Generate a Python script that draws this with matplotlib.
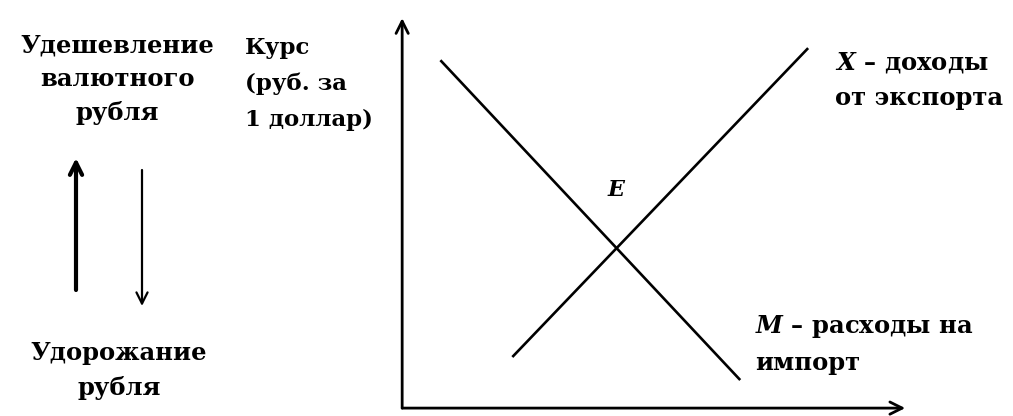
import numpy as np
import matplotlib.pyplot as plt

plt.rcParams['font.family'] = 'DejaVu Serif'
plt.rcParams['mathtext.fontset'] = 'custom'
plt.rcParams['mathtext.it'] = 'DejaVu Serif:italic:bold'
plt.rcParams['mathtext.rm'] = 'DejaVu Serif:bold'

# line endpoints in chart units (axis runs 0..10 both ways)
export_x = [2.19, 8.07]
export_y = [1.31, 9.23]
import_x = [0.76, 6.72]
import_y = [8.92, 0.72]

export_label = ["$X$ – доходы", "от экспорта"]
import_label = ["$M$ – расходы на", "импорт"]
y_label = ["Курс", "(руб. за", "1 доллар)"]
top_note = ["Удешевление", "валютного", "рубля"]
bottom_note = ["Удорожание", "рубля"]

fig = plt.figure(figsize=(10.13, 4.16), dpi=100)
ax = fig.add_axes([0.397, 0.019, 0.4966, 0.9375])
ax.set_xlim(0, 10)
ax.set_ylim(0, 10)
ax.axis('off')

# axes with arrows
ax.annotate("", xy=(0, 1.0), xytext=(0, 0), xycoords='axes fraction',
            arrowprops=dict(arrowstyle='->', lw=2, color='black', mutation_scale=22,
                            shrinkA=0, shrinkB=0))
ax.annotate("", xy=(1.0, 0), xytext=(0, 0), xycoords='axes fraction',
            arrowprops=dict(arrowstyle='->', lw=2, color='black', mutation_scale=22,
                            shrinkA=0, shrinkB=0))

ax.plot(export_x, export_y, color='black', lw=1.9, solid_capstyle='butt')
ax.plot(import_x, import_y, color='black', lw=1.9, solid_capstyle='butt')

# equilibrium label, placed above the crossing
a1 = np.polyfit(export_x, export_y, 1)
a2 = np.polyfit(import_x, import_y, 1)
xe = (a2[1] - a1[1]) / (a1[0] - a2[0])
ye = np.polyval(a1, xe)
ax.text(xe, ye + 1.2, "$E$", ha='center', va='bottom', fontsize=16)

fs = 17.5
ax.text(8.6, 8.85, export_label[0], ha='left', va='center', fontsize=fs, fontweight='bold')
ax.text(8.6, 7.95, export_label[1], ha='left', va='center', fontsize=fs, fontweight='bold')
ax.text(7.02, 2.1, import_label[0], ha='left', va='center', fontsize=fs, fontweight='bold')
ax.text(7.02, 1.15, import_label[1], ha='left', va='center', fontsize=fs, fontweight='bold')

for i, s in enumerate(y_label):
    fig.text(245 / 1013, 1 - (48 + 36 * i) / 416, s, ha='left', va='center',
             fontsize=16.5, fontweight='bold')
for i, s in enumerate(top_note):
    fig.text(117 / 1013, 1 - (45 + 34 * i) / 416, s, ha='center', va='center',
             fontsize=fs, fontweight='bold')
for i, s in enumerate(bottom_note):
    fig.text(119 / 1013, 1 - (353 + 35 * i) / 416, s, ha='center', va='center',
             fontsize=fs, fontweight='bold')

# direction arrows on the left
fig.add_artist(plt.Annotation("", xy=(76 / 1013, 1 - 158 / 416), xytext=(76 / 1013, 1 - 290 / 416),
                              xycoords='figure fraction',
                              arrowprops=dict(arrowstyle='->', lw=3, color='black',
                                              mutation_scale=22, shrinkA=0, shrinkB=0)))
fig.add_artist(plt.Annotation("", xy=(142 / 1013, 1 - 306 / 416), xytext=(142 / 1013, 1 - 170 / 416),
                              xycoords='figure fraction',
                              arrowprops=dict(arrowstyle='->', lw=1.6, color='black',
                                              mutation_scale=20, shrinkA=0, shrinkB=0)))

fig.savefig("out.png", dpi=100)
